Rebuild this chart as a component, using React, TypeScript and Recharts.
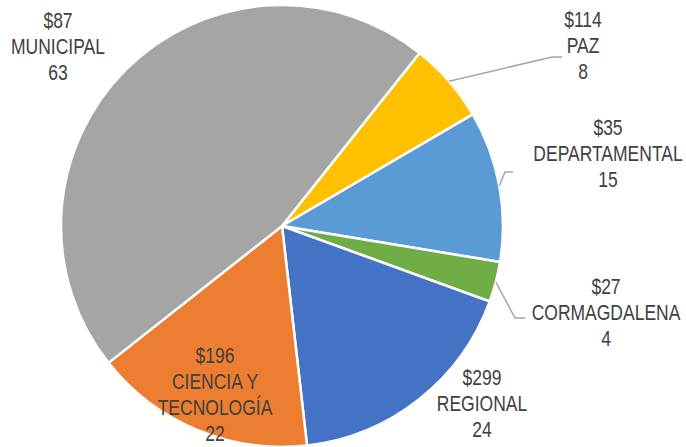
import React from 'react';
import { PieChart, Pie, Cell } from 'recharts';

const categories = ['PAZ', 'DEPARTAMENTAL', 'CORMAGDALENA', 'REGIONAL', 'CIENCIA Y TECNOLOGÍA', 'MUNICIPAL'];
const amounts = ['$114', '$35', '$27', '$299', '$196', '$87'];
const counts = [8, 15, 4, 24, 22, 63];

const colors = ['#FFC000', '#5B9BD5', '#70AD47', '#4472C4', '#ED7D31', '#A5A5A5'];

// label placement relative to the pie centre (text centre x, first baseline y)
const labelSpots = [
  { dx: 301, dy: -199, elbow: [270, -169], end: [280, -169] },
  { dx: 326, dy: -91, elbow: [223, -54], end: [231, -54] },
  { dx: 324, dy: 68, elbow: [233, 92], end: [243, 92] },
  { dx: 200, dy: 159 },
  { dx: -67, dy: 137 },
  { dx: -224, dy: -198 },
];

const data = categories.map((name, i) => ({ name, amount: amounts[i], count: counts[i] }));

const RADIAN = Math.PI / 180;
const LINE = 26;
const STRETCH = 1.3;

const wrap = (s: string, max = 12) => {
  const out: string[] = [];
  let cur = '';
  s.split(' ').forEach((w) => {
    if (!cur) cur = w;
    else if ((cur + ' ' + w).length <= max) cur += ' ' + w;
    else {
      out.push(cur);
      cur = w;
    }
  });
  if (cur) out.push(cur);
  return out;
};

const renderLabel = (props: any) => {
  const { cx, cy, midAngle, outerRadius, index, payload } = props;
  const spot = labelSpots[index];
  const lines = [payload.amount, ...wrap(payload.name), String(payload.count)];
  const tx = cx + spot.dx;
  const ty = cy + spot.dy;
  let leader = null;
  if (spot.elbow) {
    const sx = cx + outerRadius * Math.cos(-midAngle * RADIAN);
    const sy = cy + outerRadius * Math.sin(-midAngle * RADIAN);
    leader = (
      <polyline
        points={`${sx},${sy} ${cx + spot.elbow[0]},${cy + spot.elbow[1]} ${cx + spot.end[0]},${cy + spot.end[1]}`}
        fill="none"
        stroke="#A6A6A6"
        strokeWidth={1.5}
      />
    );
  }
  return (
    <g key={`lbl-${index}`}>
      {leader}
      {lines.map((t, i) => (
        <g key={i} transform={`translate(${tx},${ty + i * LINE}) scale(1,${STRETCH})`}>
          <text
            x={0}
            y={0}
            textAnchor="middle"
            fontFamily="'Liberation Sans', Arial, sans-serif"
            fontSize={17.5}
            fill="#404040"
          >
            {t}
          </text>
        </g>
      ))}
    </g>
  );
};

export default function App() {
  return (
    <div style={{ position: 'absolute', left: 0, top: 0, width: 686, height: 447, background: '#fff' }}>
      <PieChart width={686} height={447} margin={{ top: 0, right: 0, bottom: 0, left: 0 }}>
        <Pie
          data={data}
          dataKey="count"
          nameKey="name"
          cx={282}
          cy={226}
          outerRadius={221}
          startAngle={51.5}
          endAngle={-308.5}
          stroke="#fff"
          strokeWidth={2.5}
          label={renderLabel}
          labelLine={false}
          isAnimationActive={false}
        >
          {data.map((d, i) => (
            <Cell key={d.name} fill={colors[i]} />
          ))}
        </Pie>
      </PieChart>
    </div>
  );
}
